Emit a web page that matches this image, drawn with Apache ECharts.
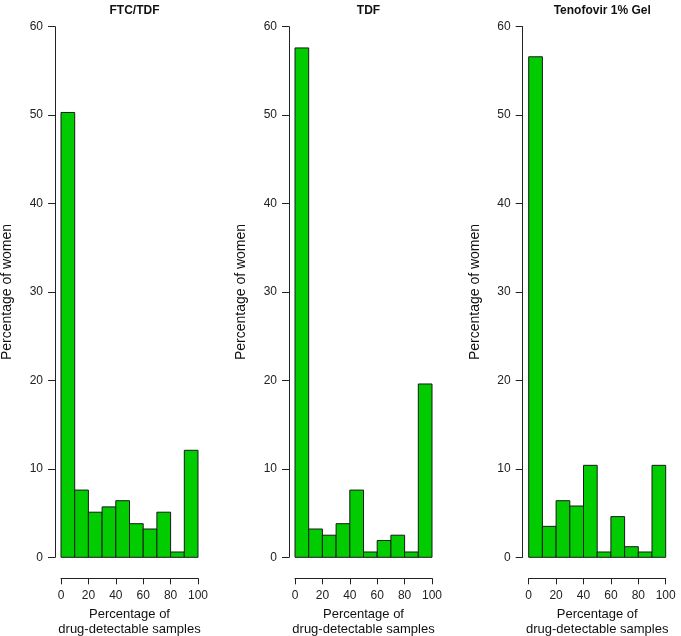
<!DOCTYPE html>
<html>
<head>
<meta charset="utf-8">
<script src="https://cdn.jsdelivr.net/npm/echarts@6/dist/echarts.min.js"></script>
<style>html,body{margin:0;padding:0;background:#fff}#c{width:681px;height:636px}</style>
</head>
<body>
<div id="c"></div>
<script>
var binEdges = [0, 10, 20, 30, 40, 50, 60, 70, 80, 90, 100];
var panelTitles = ['FTC/TDF', 'TDF', 'Tenofovir 1% Gel'];
var ftcTdf = [50.3, 7.6, 5.1, 5.7, 6.4, 3.8, 3.2, 5.1, 0.6, 12.1];
var tdf = [57.6, 3.2, 2.5, 3.8, 7.6, 0.6, 1.9, 2.5, 0.6, 19.6];
var gel = [56.6, 3.5, 6.4, 5.8, 10.4, 0.6, 4.6, 1.2, 0.6, 10.4];
var xTicks = [0, 20, 40, 60, 80, 100];
var yTicks = [0, 10, 20, 30, 40, 50, 60];
var xTitle = 'Percentage of\ndrug-detectable samples';
var yTitle = 'Percentage of women';

var panelValues = [ftcTdf, tdf, gel];
var gridLefts = [61, 295, 528.7];
var font = '"Liberation Sans", Arial, Helvetica, sans-serif';
var axisColor = '#222';

var chart = echarts.init(document.getElementById('c'), null, {renderer: 'canvas'});
var grids = [], xAxes = [], yAxes = [], series = [], titles = [];

panelValues.forEach(function (vals, i) {
  grids.push({left: gridLefts[i], width: 137, top: 26.7, bottom: 78.7, containLabel: false, outerBoundsMode: 'none'});
  titles.push({
    text: panelTitles[i],
    left: gridLefts[i] + 68.5,
    textAlign: 'center',
    top: 0,
    textStyle: {fontFamily: font, fontWeight: 'bold', fontSize: 12, color: '#111'}
  });
  xAxes.push({
    type: 'value', gridIndex: i, min: xTicks[0], max: xTicks[xTicks.length - 1], interval: 20,
    offset: 21,
    axisLine: {show: true, onZero: false, lineStyle: {color: axisColor, width: 1}},
    axisTick: {show: true, length: 6, lineStyle: {color: axisColor}},
    axisLabel: {fontFamily: font, fontSize: 12, color: '#222', margin: 11},
    splitLine: {show: false},
    name: xTitle, nameLocation: 'middle', nameGap: 29,
    nameTextStyle: {fontFamily: font, fontSize: 13, color: '#111', lineHeight: 15}
  });
  yAxes.push({
    type: 'value', gridIndex: i, min: yTicks[0], max: yTicks[yTicks.length - 1], interval: 10,
    offset: 6,
    axisLine: {show: true, onZero: false, lineStyle: {color: axisColor, width: 1}},
    axisTick: {show: true, length: 7, lineStyle: {color: axisColor}},
    axisLabel: {fontFamily: font, fontSize: 12, color: '#222', margin: 12},
    splitLine: {show: false},
    name: yTitle, nameLocation: 'middle', nameGap: 41, nameRotate: 90,
    nameTextStyle: {fontFamily: font, fontSize: 14, color: '#111'}
  });
  var data = vals.map(function (v, k) { return [binEdges[k], binEdges[k + 1], v]; });
  series.push({
    type: 'custom', xAxisIndex: i, yAxisIndex: i,
    encode: {x: [0, 1], y: 2},
    data: data,
    renderItem: function (params, api) {
      var p0 = api.coord([api.value(0), 0]);
      var p1 = api.coord([api.value(1), api.value(2)]);
      return {
        type: 'rect',
        shape: {x: p0[0], y: p1[1], width: p1[0] - p0[0], height: p0[1] - p1[1]},
        style: {fill: '#00CC00', stroke: '#1a1a1a', lineWidth: 1}
      };
    }
  });
});

chart.setOption({
  backgroundColor: '#fff',
  animation: false,
  title: titles,
  grid: grids,
  xAxis: xAxes,
  yAxis: yAxes,
  series: series
});
</script>
</body>
</html>
